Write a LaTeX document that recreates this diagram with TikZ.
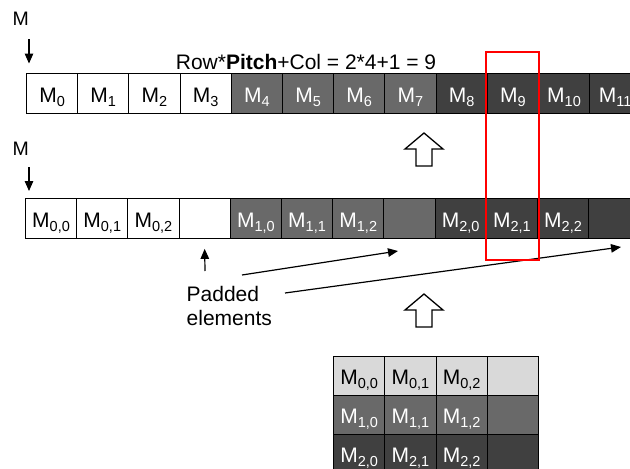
\documentclass[tikz,border=0pt]{standalone}
\usepackage{fontspec}
\setmainfont{Liberation Sans}
\usetikzlibrary{arrows.meta}
\definecolor{midgray}{HTML}{696969}
\definecolor{darkgray2}{HTML}{404040}
\definecolor{lightgray2}{HTML}{D9D9D9}
\newcommand\Msub[1]{M\raisebox{-4pt}{\fontsize{14.5}{14.5}\selectfont #1}}
\tikzset{
  cell/.style={draw=black, line width=0.9pt, minimum width=51.2pt, minimum height=40pt,
    inner sep=0pt, anchor=north west, text height=18pt, text depth=0pt,
    font=\fontsize{21}{24}\selectfont},
  gcell/.style={cell, minimum width=51.3pt, minimum height=39pt, text height=17pt},
  arr/.style={-{Triangle[width=8.5pt,length=10pt]}, line width=1.2pt},
  hollow/.style={draw=black, fill=white, line width=1.3pt, line join=miter},
  lbl/.style={inner sep=0pt, font=\fontsize{21}{24}\selectfont},
  mlbl/.style={inner sep=0pt, anchor=base, font=\fontsize{19.5}{21}\selectfont},
  hilite/.style={draw=red, line width=2.4pt}
}
\begin{document}
\begin{tikzpicture}[x=1pt,y=-1pt]
\useasboundingbox (0,0) rectangle (630,469);
\clip (0,0) rectangle (630,469);
% labels M and their arrows
\node[mlbl] (m1) at (20.8,25) {M};
\node[mlbl] (m2) at (20.8,155) {M};
\coordinate (m1a) at (29,39);
\coordinate (m1b) at (29,63.5);
\coordinate (m2a) at (29,167);
\coordinate (m2b) at (29,191);
\draw[arr] (m1a) -- (m1b);
\draw[arr] (m2a) -- (m2b);
% formula
\node[lbl, anchor=base] (formula) at (306,69) {Row*\textbf{Pitch}+Col = 2*4+1 = 9};
% top row
\foreach \i in {0,...,11}{
  \pgfmathtruncatemacro\g{int(\i/4)}
  \ifcase\g \def\fc{white}\def\tc{black}\or \def\fc{midgray}\def\tc{white}\or \def\fc{darkgray2}\def\tc{white}\fi
  \node[cell, fill=\fc, text=\tc] (t\i) at ({26+51.2*\i},73) {\Msub{\i}};
}
% second row
\foreach \i in {0,...,11}{
  \pgfmathtruncatemacro\rr{int(\i/4)}
  \pgfmathtruncatemacro\cc{mod(\i,4)}
  \ifcase\rr \def\fc{white}\def\tc{black}\or \def\fc{midgray}\def\tc{white}\or \def\fc{darkgray2}\def\tc{white}\fi
  \ifnum\cc<3 \def\lab{\Msub{\rr,\cc}}\else\def\lab{}\fi
  \node[cell, fill=\fc, text=\tc] (s\i) at ({25+51.2*\i},198) {\lab};
}
% bottom grid
\foreach \r in {0,1,2}{
  \foreach \c in {0,...,3}{
    \ifcase\r \def\fc{lightgray2}\def\tc{black}\or \def\fc{midgray}\def\tc{white}\or \def\fc{darkgray2}\def\tc{white}\fi
    \ifnum\c<3 \def\lab{\Msub{\r,\c}}\else\def\lab{}\fi
    \node[gcell, fill=\fc, text=\tc] (g\r\c) at ({333+51.3*\c},{356+39*\r}) {\lab};
  }
}
% hollow arrows
\draw[hollow] (424,133) -- (443,149) -- (432,149) -- (432,166) -- (416,166) -- (416,149) -- (405,149) -- cycle;
\draw[hollow] (424,294) -- (443,310) -- (432,310) -- (432,327) -- (416,327) -- (416,310) -- (405,310) -- cycle;
% padded elements label
\node[lbl, align=left, anchor=north west] (pad) at (186.5,286.5) {Padded\\elements};
\coordinate (pa0) at (205,271);
\coordinate (pa1) at (242,275);
\coordinate (pa2) at (285,293);
\coordinate (pt1) at (398,251);
\coordinate (pt2) at (621,247);
\draw[arr] (pa0) -- ([yshift=-10pt]s3.south);
\draw[arr] (pa1) -- (pt1);
\draw[arr] (pa2) -- (pt2);
% highlight
\draw[hilite] (486,52) rectangle (539,260);
\end{tikzpicture}
\end{document}
